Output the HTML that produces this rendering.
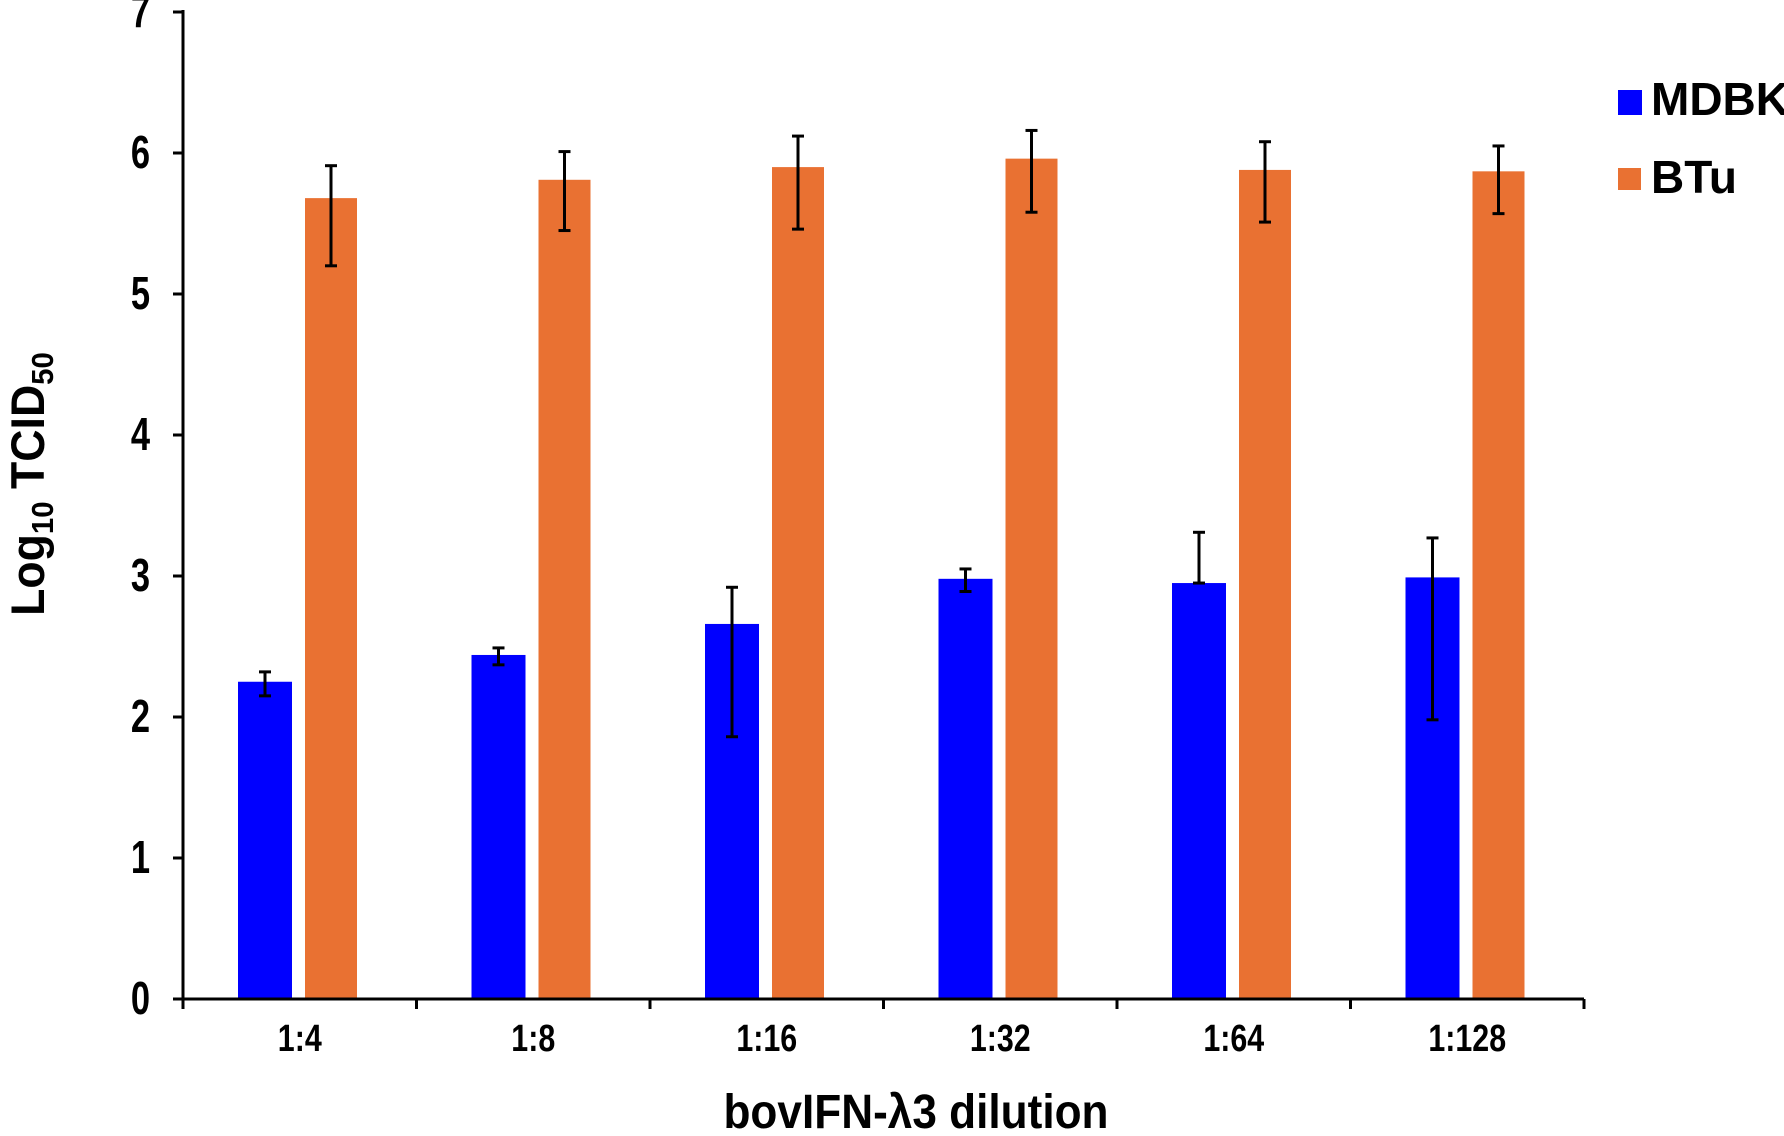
<!DOCTYPE html>
<html><head><meta charset="utf-8"><style>
html,body{margin:0;padding:0;background:#fff;}
svg{display:block;font-family:"Liberation Sans",sans-serif;font-weight:bold;}
</style></head><body>
<svg id="chart" width="1784" height="1136" viewBox="0 0 1784 1136"></svg>
<script>
const categories=["1:4","1:8","1:16","1:32","1:64","1:128"];
const mdbkValues=[2.25,2.44,2.66,2.98,2.95,2.99];
const mdbkLow=[2.15,2.37,1.86,2.89,2.95,1.98];
const mdbkHigh=[2.32,2.49,2.92,3.05,3.31,3.27];
const btuValues=[5.68,5.81,5.90,5.96,5.88,5.87];
const btuLow=[5.20,5.45,5.46,5.58,5.51,5.57];
const btuHigh=[5.91,6.01,6.12,6.16,6.08,6.05];
const yTicks=[0,1,2,3,4,5,6,7];

const svg=document.getElementById('chart');
const NS='http://www.w3.org/2000/svg';
const x0=183,x1=1584,y0=999,yTop=12,yMax=7;
const step=(x1-x0)/categories.length;
function yS(v){return y0-(v/yMax)*(y0-yTop);}
function xC(i){return x0+i*step;}
function mk(tag,attrs){const e=document.createElementNS(NS,tag);for(const k in attrs)e.setAttribute(k,attrs[k]);svg.appendChild(e);return e;}

categories.forEach((c,i)=>{
  const bx=xC(i)+55;
  let r=mk('rect',{x:bx,y:yS(mdbkValues[i]),width:54,height:y0-yS(mdbkValues[i]),fill:'#0000ff'});
  
  
  const ox=xC(i)+122;
  let r2=mk('rect',{x:ox,y:yS(btuValues[i]),width:52,height:y0-yS(btuValues[i]),fill:'#e97132'});
  
  
  [[bx+27,mdbkLow[i],mdbkHigh[i],'mdbk'],[ox+26,btuLow[i],btuHigh[i],'btu']].forEach(([cx,lo,hi,nm])=>{
    const g=document.createElementNS(NS,'g');
    
    
    g.setAttribute('stroke','#000');g.setAttribute('stroke-width','3');
    g.innerHTML=`<line x1="${cx}" x2="${cx}" y1="${yS(lo)}" y2="${yS(hi)}"/><line x1="${cx-6}" x2="${cx+6}" y1="${yS(lo)}" y2="${yS(lo)}"/><line x1="${cx-6}" x2="${cx+6}" y1="${yS(hi)}" y2="${yS(hi)}"/>`;
    svg.appendChild(g);
  });
  const t=mk('text',{transform:`translate(${xC(i)+step/2},1051) scale(0.8,1)`,'text-anchor':'middle','font-size':38});
  t.textContent=c;
  
  
});
for(let i=0;i<=categories.length;i++){
  const l=mk('line',{x1:xC(i),x2:xC(i),y1:y0,y2:y0+10,stroke:'#000','stroke-width':3});
  
  
}
yTicks.forEach(v=>{
  const l=mk('line',{x1:x0-10,x2:x0,y1:yS(v),y2:yS(v),stroke:'#000','stroke-width':3});
  
  
  const t=mk('text',{transform:`translate(150,${yS(v)+15}) scale(0.75,1)`,'text-anchor':'end','font-size':46});
  t.textContent=v;
  
  
});
let ax=mk('line',{x1:x0,x2:x0,y1:yTop-2,y2:y0+10,stroke:'#000','stroke-width':3});


let axx=mk('line',{x1:x0-10,x2:x1,y1:y0,y2:y0,stroke:'#000','stroke-width':3});


</script>
<svg style="position:absolute;left:0;top:0" width="1784" height="1136">
<text transform="translate(916,1128) scale(0.92,1)" text-anchor="middle" font-size="48" font-family="Liberation Sans" font-weight="bold">bovIFN-λ3 dilution</text>
<text transform="translate(44,484) rotate(-90) scale(0.95,1)" text-anchor="middle" font-size="47" font-family="Liberation Sans" font-weight="bold">Log<tspan font-size="31" dy="9">10</tspan><tspan dy="-9"> TCID</tspan><tspan font-size="31" dy="9">50</tspan></text>
<rect x="1618" y="90" width="24" height="25" fill="#0000ff"/>
<text x="1651" y="115" font-size="46" font-family="Liberation Sans" font-weight="bold">MDBK</text>
<rect x="1618" y="168" width="23" height="22" fill="#e97132"/>
<text x="1651" y="193" font-size="46" font-family="Liberation Sans" font-weight="bold">BTu</text>
</svg>
</body></html>
